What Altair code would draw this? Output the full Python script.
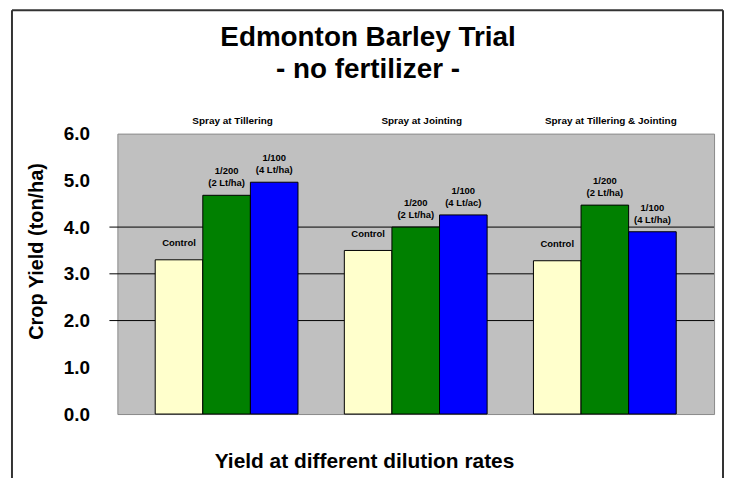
import altair as alt
import pandas as pd

groups = ["Spray at Tillering", "Spray at Jointing", "Spray at Tillering & Jointing"]
series = ["Control", "1/200", "1/100"]
values = [
    [3.30, 4.68, 4.96],
    [3.50, 4.00, 4.26],
    [3.28, 4.47, 3.90],
]
labels = [
    ["Control", "1/200\n(2 Lt/ha)", "1/100\n(4 Lt/ha)"],
    ["Control", "1/200\n(2 Lt/ha)", "1/100\n(4 Lt/ac)"],
    ["Control", "1/200\n(2 Lt/ha)", "1/100\n(4 Lt/ha)"],
]
colors = ["#ffffcc", "#008000", "#0000ff"]
y_ticks = [0, 1, 2, 3, 4, 5, 6]
grid_vals = [2, 3, 4]
title_lines = ["Edmonton Barley Trial", "- no fertilizer -"]
y_title = "Crop Yield (ton/ha)"
x_title = "Yield at different dilution rates"

rows = []
for gi, g in enumerate(groups):
    for si, s in enumerate(series):
        rows.append({"group": g, "series": s, "value": values[gi][si], "label": labels[gi][si]})
df = pd.DataFrame(rows)

FONT = "Liberation Sans"
W, H = 600, 282

y_axis = alt.Axis(values=y_ticks, format=".1f", grid=False, ticks=False, domain=False,
                  labelFont=FONT, labelFontSize=19, labelFontWeight="bold",
                  labelColor="black", labelPadding=28,
                  title=y_title, titleFont=FONT, titleFontSize=20,
                  titleFontWeight="bold", titleColor="black",
                  titleX=-81, titleY=118, titleAlign="center", titleBaseline="middle")
y_scale = alt.Scale(domain=[0, 6], nice=False)

xs = alt.X("group:N", sort=groups,
           scale=alt.Scale(paddingInner=0.245, paddingOuter=0.2),
           axis=alt.Axis(labels=False, ticks=False, domain=False, title=x_title,
                         titleFont=FONT, titleFontSize=21, titleFontWeight="bold",
                         titleColor="black", titleX=248, titleY=54, titleAlign="center",
                         titleBaseline="alphabetic"))
xo = alt.XOffset("series:N", sort=series, scale=alt.Scale(paddingInner=0, paddingOuter=0))
ys = alt.Y("value:Q", scale=y_scale, axis=y_axis, title=y_title)

grid = alt.Chart(pd.DataFrame({"v": grid_vals})).mark_rule(color="black", strokeWidth=1).encode(
    y=alt.Y("v:Q", scale=y_scale, axis=y_axis, title=y_title),
    x=alt.value(-8), x2=alt.value(W),
)

bars = alt.Chart(df).mark_bar(stroke="black", strokeWidth=1).encode(
    x=xs, xOffset=xo, y=ys,
    color=alt.Color("series:N", sort=series, scale=alt.Scale(domain=series, range=colors), legend=None),
)

base_text = dict(font=FONT, fontSize=9.5, fontWeight="bold", color="black",
                 baseline="alphabetic", lineBreak="\n", lineHeight=12)
ctrl_text = alt.Chart(df).transform_filter(alt.datum.series == "Control").mark_text(
    dy=-14, **base_text).encode(x=xs, xOffset=xo, y=ys, text="label:N")
rate_text = alt.Chart(df).transform_filter(alt.datum.series != "Control").mark_text(
    dy=-21, **base_text).encode(x=xs, xOffset=xo, y=ys, text="label:N")

group_text = alt.Chart(pd.DataFrame({"group": groups})).mark_text(
    font=FONT, fontSize=10, fontWeight="bold", color="black", baseline="alphabetic", dx=6
).encode(x=alt.X("group:N", sort=groups), y=alt.value(-10), text="group:N")

t1 = alt.Chart(pd.DataFrame({"t": [title_lines[0]]})).mark_text(
    font=FONT, fontSize=28, fontWeight="bold", color="black", baseline="alphabetic"
).encode(x=alt.value(252), y=alt.value(-88), text="t:N")
t2 = alt.Chart(pd.DataFrame({"t": [title_lines[1]]})).mark_text(
    font=FONT, fontSize=28, fontWeight="bold", color="black", baseline="alphabetic"
).encode(x=alt.value(252), y=alt.value(-56), text="t:N")

frame_df = pd.DataFrame({"k": [0]})
fl = alt.Chart(frame_df).mark_rule(color="#333333", strokeWidth=2).encode(
    x=alt.value(-106), y=alt.value(-124), y2=alt.value(400))
ft = alt.Chart(frame_df).mark_rule(color="#333333", strokeWidth=2).encode(
    x=alt.value(-106), x2=alt.value(609), y=alt.value(-124))
fr = alt.Chart(frame_df).mark_rule(color="#333333", strokeWidth=2).encode(
    x=alt.value(609), y=alt.value(-124), y2=alt.value(400))

chart = alt.layer(grid, bars, ctrl_text, rate_text, group_text, t1, t2, fl, ft, fr).properties(
    width=W, height=H,
    autosize=alt.AutoSizeParams(type="none"),
    padding={"left": 110, "top": 125, "right": 10, "bottom": 63},
    background="white",
).configure_view(fill="#c0c0c0", stroke="#8a8a8a", strokeWidth=1)

chart.save("out.html", embed_options={"renderer": "svg", "actions": False})
